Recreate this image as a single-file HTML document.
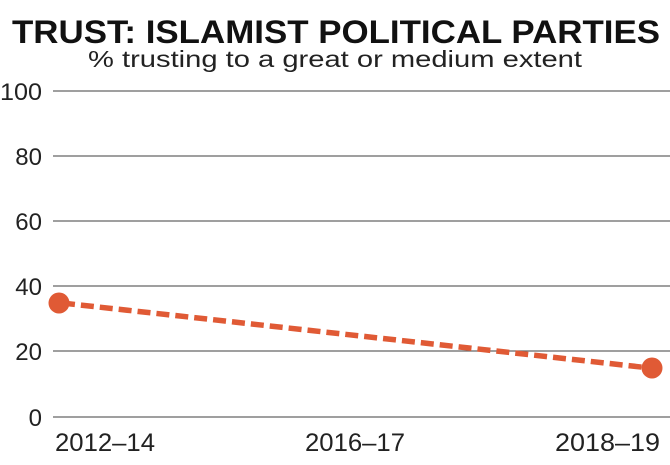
<!DOCTYPE html>
<html><head><style>
body{margin:0;background:#fff;}
svg{display:block;font-family:"Liberation Sans",sans-serif;}
</style></head><body>
<svg width="670" height="465" viewBox="0 0 670 465">
<text x="336" y="43" text-anchor="middle" font-size="32" font-weight="bold" fill="#111" textLength="648" lengthAdjust="spacingAndGlyphs">TRUST: ISLAMIST POLITICAL PARTIES</text>
<text x="335" y="67" text-anchor="middle" font-size="23" fill="#222" textLength="494" lengthAdjust="spacingAndGlyphs">% trusting to a great or medium extent</text>
<g stroke="#666" stroke-width="1.3">
<line x1="53" y1="91" x2="670" y2="91"/>
<line x1="53" y1="156" x2="670" y2="156"/>
<line x1="53" y1="221" x2="670" y2="221"/>
<line x1="53" y1="286" x2="670" y2="286"/>
<line x1="53" y1="351" x2="670" y2="351"/>
<line x1="53" y1="417" x2="670" y2="417"/>
</g>
<g font-size="24" fill="#222" text-anchor="end">
<text x="42" y="100" textLength="42" lengthAdjust="spacingAndGlyphs">100</text>
<text x="42" y="165">80</text>
<text x="42" y="230">60</text>
<text x="42" y="295">40</text>
<text x="42" y="360">20</text>
<text x="42" y="426">0</text>
</g>
<g font-size="25" fill="#222">
<text x="55" y="451" textLength="100" lengthAdjust="spacingAndGlyphs">2012–14</text>
<text x="305" y="451" textLength="100" lengthAdjust="spacingAndGlyphs">2016–17</text>
<text x="555" y="451" textLength="105" lengthAdjust="spacingAndGlyphs">2018–19</text>
</g>
<line x1="62" y1="303" x2="650" y2="368" stroke="#e05a35" stroke-width="5.5" stroke-dasharray="13,6"/>
<circle cx="59" cy="303" r="10.5" fill="#e05a35"/>
<circle cx="652" cy="368" r="10.5" fill="#e05a35"/>
</svg>
</body></html>
